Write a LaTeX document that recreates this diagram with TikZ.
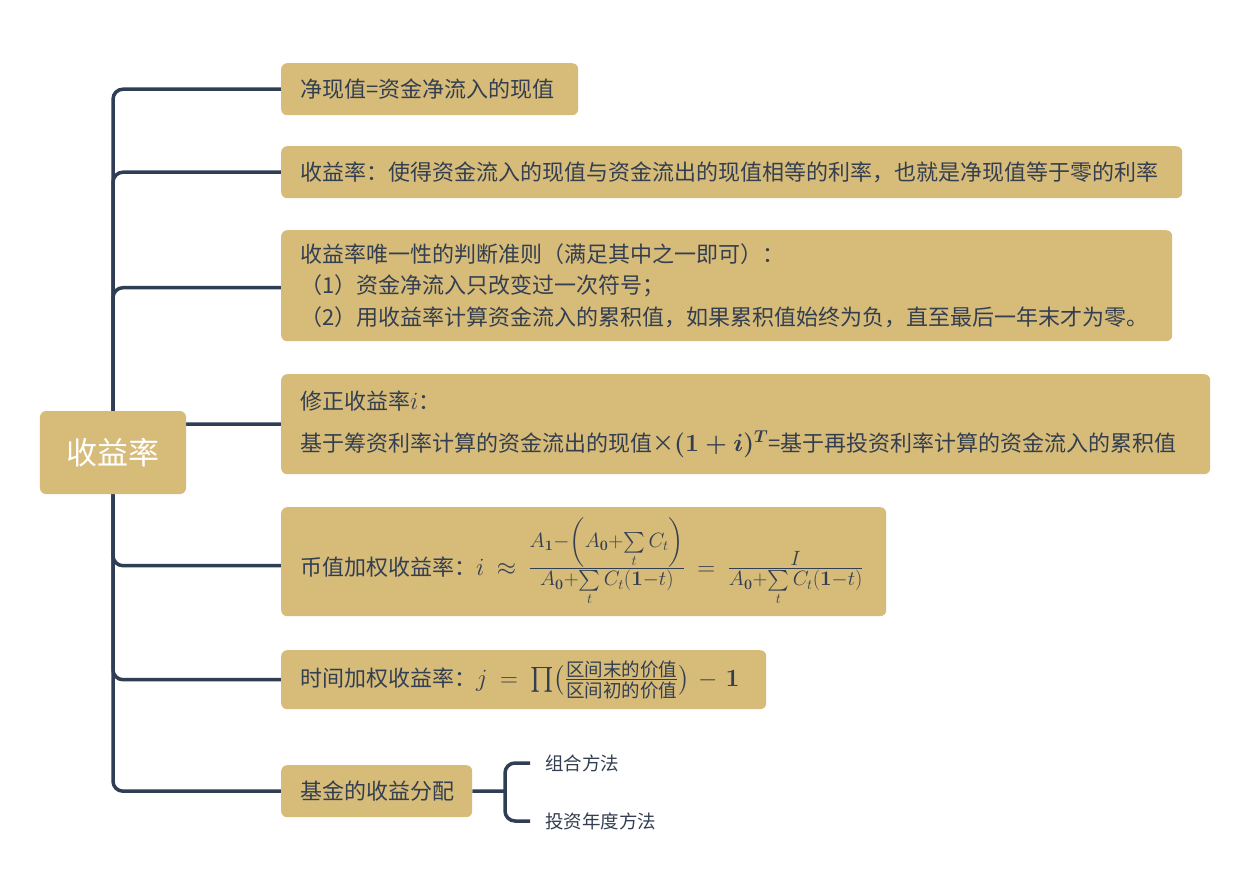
\documentclass[tikz,border=0pt]{standalone}
\usepackage[no-math]{fontspec}
\usepackage{amsmath}
\setmainfont{Noto Sans CJK SC}
\DeclareMathSizes{26}{26}{20.5}{14}
\pgfdeclarelayer{bg}
\pgfsetlayers{bg,main}
\definecolor{boxc}{RGB}{215,187,121}
\definecolor{txtc}{RGB}{51,63,80}
\definecolor{linec}{RGB}{47,62,84}
\newcommand\mthb[1]{{\fontsize{24bp}{24bp}\selectfont\boldmath$#1$}}
\newcommand\mthi[1]{{\fontsize{24bp}{24bp}\selectfont$#1$}}
\newcommand\mthc[1]{\mbox{\fontsize{26}{26}\selectfont\thickmuskip=9mu\medmuskip=6mu$#1$}}
\newcommand\fr[1]{\mbox{\fontsize{18.5bp}{18.5bp}\selectfont #1}}
\begin{document}
\begin{tikzpicture}[x=1bp,y=-1bp,
 box/.style={fill=boxc, rounded corners=6bp, text=txtc, inner xsep=19bp, inner ysep=0pt, align=left, anchor=north west, font=\fontsize{22bp}{31.5bp}\selectfont},
 conn/.style={draw=linec, line width=3.5bp, rounded corners=10bp},
 sub/.style={text=txtc, anchor=west, inner xsep=15bp, inner ysep=2bp, font=\fontsize{18.5bp}{22bp}\selectfont}]
\useasboundingbox (0,0) rectangle (1254,872);
\node[box, text width=259bp, minimum height=52bp] (b1) at (281,63) {净现值=资金净流入的现值};
\node[box, text width=863bp, minimum height=52bp] (b2) at (281,146) {收益率：使得资金流入的现值与资金流出的现值相等的利率，也就是净现值等于零的利率};
\node[box, text width=853bp, minimum height=111bp] (b3) at (281,230) {收益率唯一性的判断准则（满足其中之一即可）：\\（1）资金净流入只改变过一次符号；\\（2）用收益率计算资金流入的累积值，如果累积值始终为负，直至最后一年末才为零。};
\node[box, text width=891bp, minimum height=100bp] (b4) at (281,374) {修正收益率\mthi{i}：\\[10bp]基于筹资利率计算的资金流出的现值×\mthb{(1+i)^T}=基于再投资利率计算的资金流入的累积值};
\node[box, text width=567bp, minimum height=109bp] (b5) at (281,507) {币值加权收益率：\mthc{i \approx \frac{A_{\mathbf 1}-\left(A_{\mathbf 0}+\sum\limits_t C_t\right)}{A_{\mathbf 0}+\sum\limits_t C_t(\mathbf{1}-t)} = \frac{I}{A_{\mathbf 0}+\sum\limits_t C_t(\mathbf{1}-t)}}};
\node[box, text width=447bp, minimum height=59bp] (b6) at (281,650) {时间加权收益率：\mthc{j = \prod\bigl(\frac{\fr{区间末的价值}}{\fr{区间初的价值}}\bigr) - \mathbf{1}}};
\node[box, text width=153bp, minimum height=52bp] (b7) at (281,765) {基金的收益分配};
\node[fill=boxc, rounded corners=6bp, text=white, minimum width=146bp, minimum height=83bp, inner sep=0pt, font=\fontsize{31bp}{31bp}\selectfont] (root) at (113,452.5) {收益率};
\node[sub] (s1) at (530,763) {组合方法};
\node[sub] (s2) at (530,821) {投资年度方法};
\coordinate (fj) at (505,791);
\begin{pgfonlayer}{bg}
\fill[white] (0,0) rectangle (1254,872);
\foreach \c in {b1,b2,b4,b6,b7} \draw[conn] (root.center) |- (\c.west);
\draw[conn] (root.center) |- ([yshift=-2bp]b3.west);
\draw[conn] (root.center) |- ([yshift=-4bp]b5.west);
\draw[conn] (b7.east) -- (fj);
\draw[conn] (fj) |- (s1.west);
\draw[conn] (fj) |- (s2.west);
\end{pgfonlayer}
\end{tikzpicture}
\end{document}
